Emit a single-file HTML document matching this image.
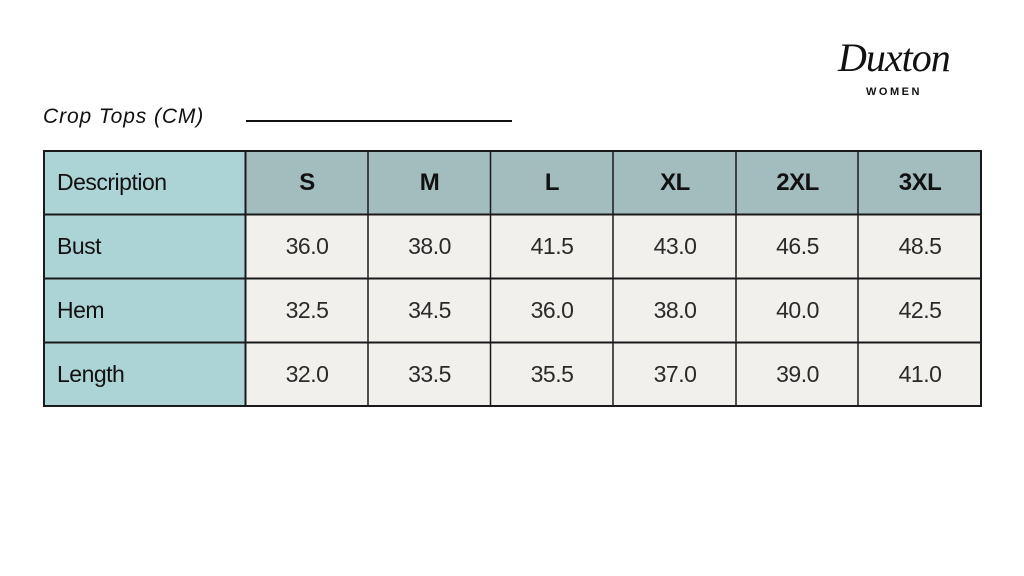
<!DOCTYPE html>
<html><head><meta charset="utf-8">
<style>
html,body{margin:0;padding:0;background:#fff;}
body{width:1024px;height:576px;position:relative;overflow:hidden;font-family:"Liberation Sans",sans-serif;color:#111;}
.c{position:absolute;box-sizing:border-box;display:flex;align-items:center;justify-content:center;font-size:23px;letter-spacing:-0.5px;}
.h{background:#a3bcbd;font-weight:bold;font-size:24px;}
.d{background:#f2f0ec;font-weight:normal;color:#2a2a2a;}
.l{background:#acd4d6;justify-content:flex-start;padding-left:14px;font-size:23px;}
</style></head><body>
<div style="position:absolute;left:43px;top:105px;font-size:21px;font-style:italic;letter-spacing:0.9px;color:#111;">Crop Tops (CM)</div>
<div style="position:absolute;left:246px;top:120px;width:266px;height:2px;background:#111;"></div>
<div style="position:absolute;left:838px;top:34px;font-family:'Liberation Serif',serif;font-style:italic;font-size:40px;letter-spacing:-1px;color:#111;transform:scaleX(1.0);">Duxton</div>
<div style="position:absolute;left:866px;top:86px;font-size:11px;font-weight:bold;letter-spacing:2.5px;color:#111;">WOMEN</div>

<div class="c l" style="left:43px;top:150px;width:203px;height:65px;">Description</div>
<div class="c l" style="left:43px;top:214px;width:203px;height:65px;">Bust</div>
<div class="c l" style="left:43px;top:278px;width:203px;height:65px;">Hem</div>
<div class="c l" style="left:43px;top:342px;width:203px;height:65px;">Length</div>

<div class="c h" style="left:245px;top:150px;width:124px;height:65px;">S</div>
<div class="c h" style="left:368px;top:150px;width:123px;height:65px;">M</div>
<div class="c h" style="left:490px;top:150px;width:124px;height:65px;">L</div>
<div class="c h" style="left:613px;top:150px;width:124px;height:65px;">XL</div>
<div class="c h" style="left:736px;top:150px;width:123px;height:65px;">2XL</div>
<div class="c h" style="left:858px;top:150px;width:124px;height:65px;">3XL</div>

<div class="c d" style="left:245px;top:214px;width:124px;height:65px;">36.0</div>
<div class="c d" style="left:368px;top:214px;width:123px;height:65px;">38.0</div>
<div class="c d" style="left:490px;top:214px;width:124px;height:65px;">41.5</div>
<div class="c d" style="left:613px;top:214px;width:124px;height:65px;">43.0</div>
<div class="c d" style="left:736px;top:214px;width:123px;height:65px;">46.5</div>
<div class="c d" style="left:858px;top:214px;width:124px;height:65px;">48.5</div>

<div class="c d" style="left:245px;top:278px;width:124px;height:65px;">32.5</div>
<div class="c d" style="left:368px;top:278px;width:123px;height:65px;">34.5</div>
<div class="c d" style="left:490px;top:278px;width:124px;height:65px;">36.0</div>
<div class="c d" style="left:613px;top:278px;width:124px;height:65px;">38.0</div>
<div class="c d" style="left:736px;top:278px;width:123px;height:65px;">40.0</div>
<div class="c d" style="left:858px;top:278px;width:124px;height:65px;">42.5</div>

<div class="c d" style="left:245px;top:342px;width:124px;height:65px;">32.0</div>
<div class="c d" style="left:368px;top:342px;width:123px;height:65px;">33.5</div>
<div class="c d" style="left:490px;top:342px;width:124px;height:65px;">35.5</div>
<div class="c d" style="left:613px;top:342px;width:124px;height:65px;">37.0</div>
<div class="c d" style="left:736px;top:342px;width:123px;height:65px;">39.0</div>
<div class="c d" style="left:858px;top:342px;width:124px;height:65px;">41.0</div>

<svg style="position:absolute;left:0;top:0" width="1024" height="576">
<g stroke="#1a1a1a" stroke-width="2" fill="none">
<rect x="44" y="151" width="937" height="255"/>
<line x1="43" y1="214.5" x2="982" y2="214.5"/>
<line x1="43" y1="278.5" x2="982" y2="278.5"/>
<line x1="43" y1="342.5" x2="982" y2="342.5"/>
<line x1="245.5" y1="150" x2="245.5" y2="407"/>
<line x1="368" y1="150" x2="368" y2="407" stroke-width="1.5"/>
<line x1="490.5" y1="150" x2="490.5" y2="407" stroke-width="1.5"/>
<line x1="613" y1="150" x2="613" y2="407" stroke-width="1.5"/>
<line x1="736" y1="150" x2="736" y2="407" stroke-width="1.5"/>
<line x1="858" y1="150" x2="858" y2="407" stroke-width="1.5"/>
</g>
</svg>
</body></html>
